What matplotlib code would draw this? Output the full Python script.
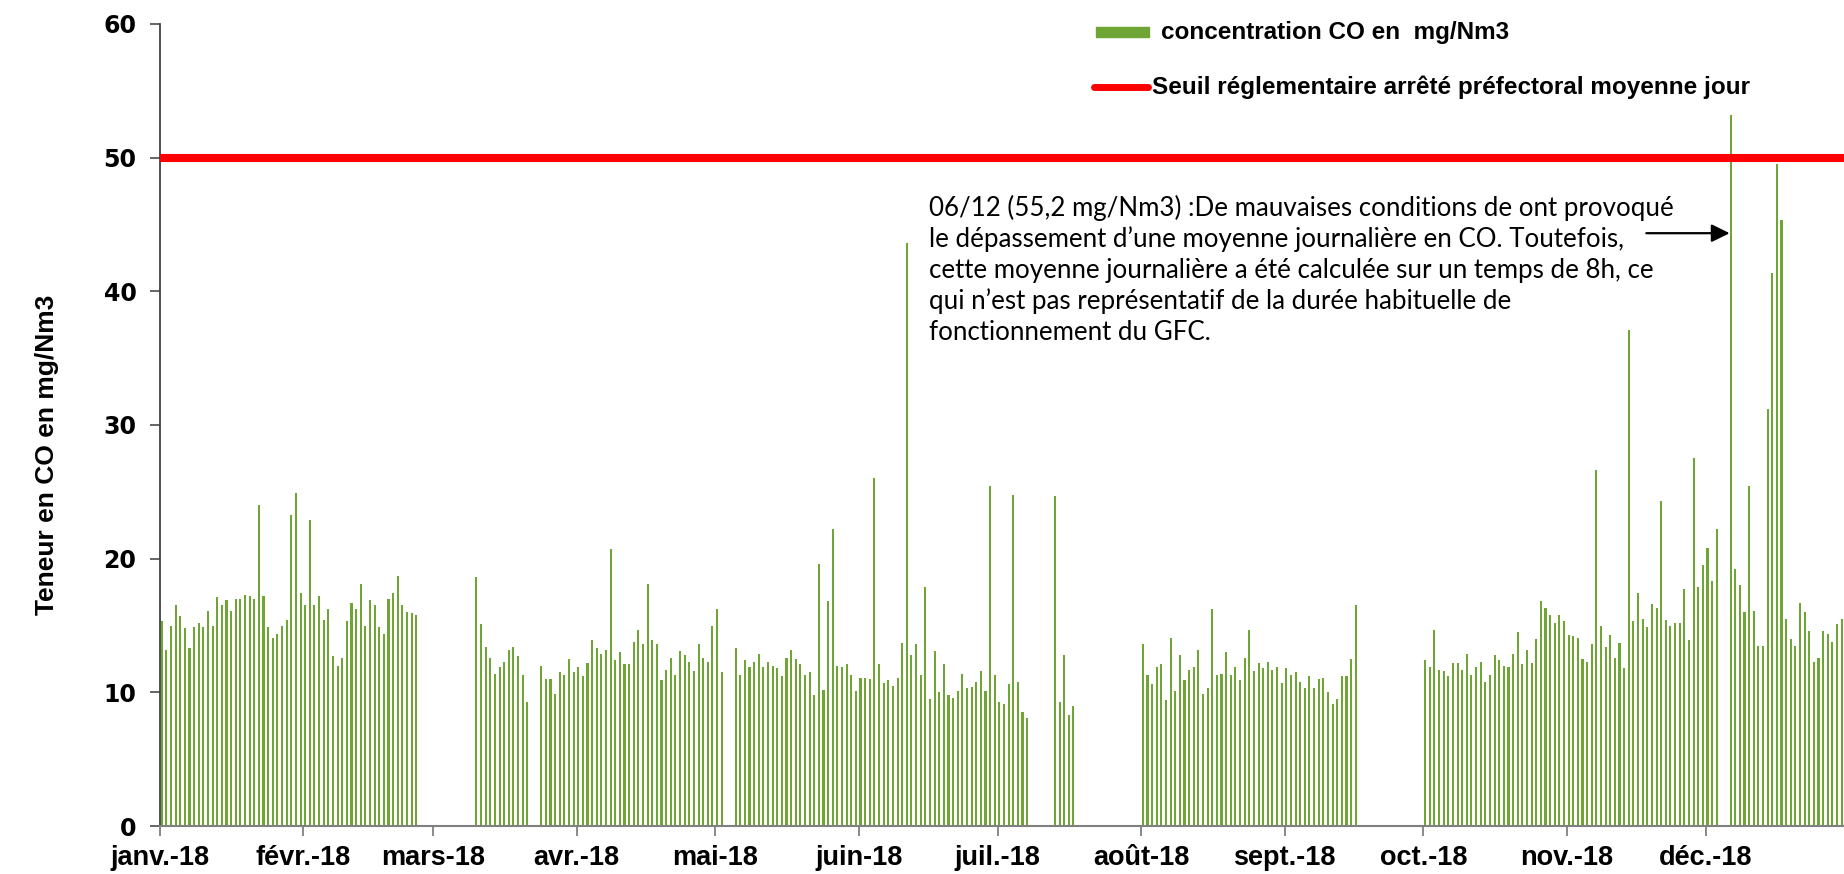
"""
Daily CO concentration (mg/Nm3) over 2018 with the daily regulatory threshold.
"""

import matplotlib

matplotlib.use("Agg")
import matplotlib.pyplot as plt
import pandas as pd
from matplotlib.lines import Line2D
from matplotlib.patches import Rectangle

YEAR_START = "2018-01-01"

# measured runs: first day + daily values (gaps = no data)
run1_start = "2018-01-01"
run1 = [15.3, 13.2, 15.0, 16.5, 15.7, 14.8, 13.3, 14.9, 15.2, 14.9,
        16.1, 15.0, 17.1, 16.5, 16.9, 16.1, 17.0, 17.0, 17.3, 17.2,
        17.0, 24.0, 17.2, 14.9, 14.1, 14.4, 15.0, 15.4, 23.3, 24.9,
        17.4, 16.5, 22.9, 16.5, 17.2, 15.4, 16.2, 12.7, 12.0, 12.6,
        15.3, 16.7, 16.2, 18.1, 15.0, 16.9, 16.5, 14.9, 14.4, 17.0,
        17.4, 18.7, 16.5, 16.0, 15.9, 15.8]

run2_start = "2018-03-10"
run2 = [18.6, 15.1, 13.4, 12.6, 11.4, 11.9, 12.3, 13.2, 13.4, 12.7, 11.3, 9.3]

run3_start = "2018-03-24"
run3 = [12.0, 11.0, 11.0, 9.9, 11.5, 11.3, 12.5, 11.5, 11.9, 11.2,
        12.2, 13.9, 13.3, 12.9, 13.2, 20.7, 12.4, 13.0, 12.1, 12.1,
        13.8, 14.7, 13.6, 18.1, 13.9, 13.6, 10.9, 11.7, 12.6, 11.3,
        13.1, 12.8, 12.3, 11.6, 13.6, 12.6, 12.3, 15.0, 16.2, 11.5]

run4_start = "2018-05-05"
run4 = [13.3, 11.3, 12.4, 11.9, 12.3, 12.9, 11.9, 12.3, 12.0, 11.8,
        11.2, 12.6, 13.2, 12.5, 12.1, 11.3, 11.5, 9.8, 19.6, 10.2,
        16.8, 22.2, 12.0, 11.9, 12.1, 11.3, 10.1, 11.1, 11.1, 11.0,
        26.0, 12.1, 10.7, 10.9, 10.5, 11.1, 13.7, 43.6, 12.8, 13.6,
        11.3, 17.9, 9.5, 13.1, 10.0, 12.1, 9.8, 9.6, 10.1, 11.4,
        10.3, 10.4, 10.8, 11.6, 10.1, 25.4, 11.3, 9.3, 9.1, 10.6,
        24.8, 10.8, 8.5, 8.1]

run5_start = "2018-07-13"
run5 = [24.7, 9.3, 12.8, 8.3, 9.0]

run6_start = "2018-08-01"
run6 = [13.6, 11.3, 10.6, 11.9, 12.1, 9.4, 14.1, 10.1, 12.8, 10.9,
        11.7, 11.9, 13.2, 9.9, 10.3, 16.2, 11.3, 11.4, 13.0, 11.3,
        11.9, 10.9, 12.6, 14.7, 11.6, 12.2, 11.8, 12.3, 11.7, 11.9,
        10.7, 11.8, 11.3, 11.5, 10.8, 10.3, 11.2, 10.3, 11.0, 11.1,
        10.0, 9.1, 9.5, 11.2, 11.2, 12.5, 16.5]

run7_start = "2018-10-01"
run7 = [12.4, 11.9, 14.7, 11.7, 11.6, 11.2, 12.2, 12.2, 11.7, 12.9,
        11.3, 11.9, 12.3, 10.8, 11.3, 12.8, 12.4, 12.0, 11.9, 12.9,
        14.5, 12.1, 13.2, 12.2, 14.0, 16.8, 16.3, 15.8, 15.2, 15.8,
        15.3, 14.3, 14.2, 14.1, 12.5, 12.3, 13.6, 26.6, 15.0, 13.4,
        14.3, 12.6, 13.7, 11.8, 37.1, 15.3, 17.4, 15.5, 14.9, 16.6,
        16.3, 24.3, 15.4, 15.0, 15.2, 15.2, 17.7, 13.9, 27.5, 17.9,
        19.5, 20.8, 18.3, 22.2]

run8_start = "2018-12-06"
run8 = [53.2, 19.2, 18.0, 16.0, 25.4, 16.1, 13.5, 13.5, 31.2, 41.4,
        49.5, 45.3, 15.5, 14.0, 13.5, 16.7, 16.0, 14.6, 12.3, 12.6,
        14.6, 14.4, 13.8, 15.1, 15.5]

threshold = 50
peak_day = "2018-12-06"

month_labels = ["janv.-18", "févr.-18", "mars-18", "avr.-18", "mai-18", "juin-18",
                "juil.-18", "août-18", "sept.-18", "oct.-18", "nov.-18", "déc.-18"]

bar_label = "concentration CO en  mg/Nm3"
line_label = "Seuil réglementaire arrêté préfectoral moyenne jour"
ylabel = "Teneur en CO en mg/Nm3"

note_lines = [
    "06/12 (55,2 mg/Nm3) :De mauvaises conditions de ont provoqué",
    "le dépassement d’une moyenne journalière en CO. Toutefois,",
    "cette moyenne journalière a été calculée sur un temps de 8h, ce",
    "qui n’est pas représentatif de la durée habituelle de",
    "fonctionnement du GFC.",
]

W, H = 1844, 874
GREEN = "#6ea534"
RED = "#ff0000"
BAR_OFFSET = 0.37


def fig_xy(px, py):
    """Pixel position (from top-left) to figure fraction."""
    return px / W, 1 - py / H


def build_series() -> pd.Series:
    runs = [(run1_start, run1), (run2_start, run2), (run3_start, run3),
            (run4_start, run4), (run5_start, run5), (run6_start, run6),
            (run7_start, run7), (run8_start, run8)]
    parts = []
    for start, values in runs:
        idx = pd.date_range(start, periods=len(values), freq="D")
        parts.append(pd.Series(values, index=idx))
    return pd.concat(parts)


def day_of(ts) -> float:
    return (pd.Timestamp(ts) - pd.Timestamp(YEAR_START)).days


def main() -> None:
    co = build_series()
    x = (co.index - pd.Timestamp(YEAR_START)).days + BAR_OFFSET

    fig = plt.figure(figsize=(W / 100, H / 100), dpi=100)
    ax = fig.add_axes([160 / W, 1 - 826 / H, 1684 / W, 802 / H])

    ax.bar(x, co.values, width=0.45, color=GREEN, zorder=2)
    ax.axhline(threshold, color=RED, lw=5.8, zorder=3)

    ax.set_xlim(0, 1684 / 4.628)
    ax.set_ylim(0, 60)

    months = pd.date_range(YEAR_START, periods=12, freq="MS")
    ax.set_xticks([day_of(m) for m in months])
    ax.set_xticklabels(month_labels, fontfamily="Liberation Sans",
                       fontweight="bold", fontsize=19.5)
    ax.set_yticks(range(0, 61, 10))
    ax.set_yticklabels([str(v) for v in range(0, 61, 10)],
                       fontfamily="DejaVu Sans", fontweight="bold", fontsize=17)

    ax.tick_params(axis="x", length=7, width=1.3, color="#808080", pad=7)
    ax.tick_params(axis="y", length=7, width=1.3, color="#595959", pad=10)
    for side in ("top", "right"):
        ax.spines[side].set_visible(False)
    ax.spines["left"].set_color("#404040")
    ax.spines["left"].set_linewidth(1.3)
    ax.spines["bottom"].set_color("#808080")
    ax.spines["bottom"].set_linewidth(1.5)

    fig.text(*fig_xy(47, 455), ylabel, rotation=90, ha="center", va="center",
             fontsize=19, fontweight="bold", fontfamily="Liberation Sans")

    # legend drawn by hand to match the original placement
    fig.add_artist(Rectangle(fig_xy(1096, 37), 53 / W, 10 / H,
                             transform=fig.transFigure, color=GREEN))
    fig.text(*fig_xy(1161, 32), bar_label, ha="left", va="center",
             fontsize=17.5, fontweight="bold", fontfamily="Liberation Sans")
    lx0, ly = fig_xy(1094, 87)
    lx1, _ = fig_xy(1148, 87)
    fig.add_artist(Line2D([lx0, lx1], [ly, ly], transform=fig.transFigure,
                          color=RED, lw=5, solid_capstyle="round"))
    fig.text(*fig_xy(1152, 87), line_label, ha="left", va="center",
             fontsize=17.5, fontweight="bold", fontfamily="Liberation Sans")

    for i, line in enumerate(note_lines):
        fig.text(*fig_xy(929, 216 + 31 * i), line, ha="left", va="baseline",
                 fontsize=18.6, fontfamily="Lato")

    ax.annotate("", xy=(day_of(peak_day) + BAR_OFFSET - 0.2, 44.35),
                xytext=(-60, 0), textcoords="offset points",
                arrowprops=dict(arrowstyle="-|>,head_length=0.55,head_width=0.27",
                                color="black", lw=1.6, mutation_scale=20,
                                shrinkA=0, shrinkB=0), zorder=4)

    fig.savefig("out.png", dpi=100)
    plt.close(fig)


if __name__ == "__main__":
    main()
